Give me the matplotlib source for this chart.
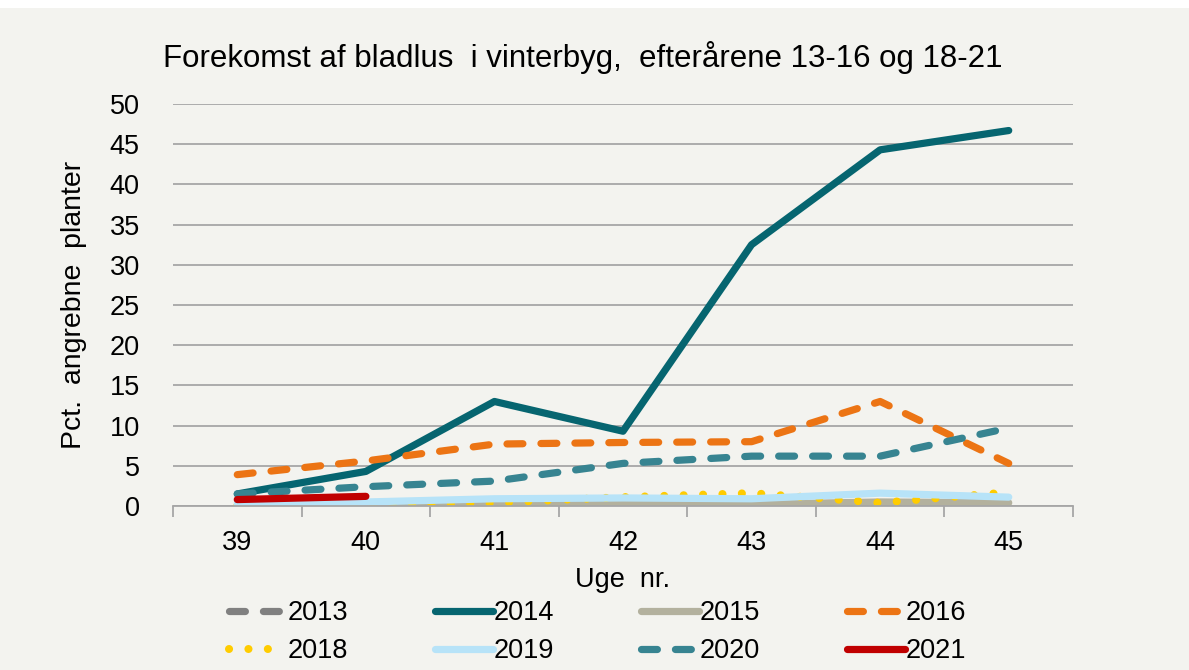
import numpy as np
import matplotlib
matplotlib.use("Agg")
import matplotlib.pyplot as plt
from matplotlib.ticker import FixedLocator, NullFormatter

plt.rcParams['font.family'] = ['Liberation Sans', 'DejaVu Sans']

# data
weeks = ['39', '40', '41', '42', '43', '44', '45']
y2013 = [0, 0, 0, 0, 0, 0, 0]
y2014 = [1.5, 4.3, 13.0, 9.3, 32.5, 44.3, 46.7]
y2015 = [0, 0, 0.2, 0.2, 0.2, 0.5, 0.4]
y2016 = [3.9, 5.6, 7.7, 7.9, 8.0, 13.0, 5.3]
y2018 = [0, 0, 0.4, 1.1, 1.6, 0.4, 1.7]
y2019 = [0.3, 0.5, 0.9, 1.0, 0.9, 1.6, 1.1]
y2020 = [1.5, 2.4, 3.1, 5.3, 6.2, 6.2, 9.7]
y2021 = [0.8, 1.2]

bg = '#f3f3ef'
fig = plt.figure(figsize=(11.89, 6.70), dpi=100, facecolor=bg)
# thin white strip at the very top like the screenshot
fig.patches.append(plt.Rectangle((0, 1 - 8/670), 1, 8/670, transform=fig.transFigure,
                                 facecolor='white', edgecolor='none', zorder=-1))
ax = fig.add_axes([173/1189, 1 - 506/670, 900/1189, 402/670])
ax.set_facecolor(bg)

x = np.arange(len(weeks))
lw = 5.2
dash = (0, (2.2, 2.5))

h = {}
h['2013'], = ax.plot(x, y2013, color='#808080', lw=lw, ls=dash, dash_capstyle='round', zorder=2)
h['2014'], = ax.plot(x, y2014, color='#066570', lw=lw, solid_capstyle='round', zorder=3)
h['2015'], = ax.plot(x, y2015, color='#b3b19e', lw=lw, solid_capstyle='round', zorder=2)
h['2016'], = ax.plot(x, y2016, color='#ec7414', lw=lw, ls=dash, dash_capstyle='round', zorder=3)
h['2018'], = ax.plot(x, y2018, color='#ffcc00', lw=5.8, ls=(0, (0.01, 2.4)), dash_capstyle='round', zorder=2)
h['2019'], = ax.plot(x, y2019, color='#b7e3f8', lw=lw, solid_capstyle='round', zorder=2)
h['2020'], = ax.plot(x, y2020, color='#378491', lw=lw, ls=dash, dash_capstyle='round', zorder=3)
h['2021'], = ax.plot(x[:len(y2021)], y2021, color='#c00000', lw=lw, solid_capstyle='round', zorder=4)

ax.set_xlim(-0.5, len(weeks) - 0.5)
ax.set_ylim(0, 50)
ax.set_yticks(np.arange(0, 51, 5))
ax.yaxis.grid(True, color='#a6a6a6', lw=1.3)
ax.set_axisbelow(True)
for s in ['top', 'right', 'left']:
    ax.spines[s].set_visible(False)
ax.spines['bottom'].set_color('#a6a6a6')
ax.spines['bottom'].set_linewidth(1.3)

# labels at week centres, tick marks at the boundaries
ax.set_xticks(x)
ax.set_xticklabels(weeks)
ax.tick_params(axis='x', which='major', length=0, pad=17, labelsize=19.5)
ax.xaxis.set_minor_locator(FixedLocator(np.arange(-0.5, len(weeks), 1)))
ax.xaxis.set_minor_formatter(NullFormatter())
ax.tick_params(axis='x', which='minor', length=8, width=1.3, color='#a6a6a6')
ax.tick_params(axis='y', length=0, pad=24, labelsize=19.5)

ax.set_xlabel('Uge  nr.', fontsize=19.5, labelpad=8)
ax.set_ylabel('Pct.  angrebne  planter', fontsize=20.5, labelpad=16)

fig.text(0.49, 1 - 57/670, 'Forekomst af bladlus  i vinterbyg,  efterårene 13-16 og 18-21',
         ha='center', va='center', fontsize=22.5)

# legend filled row by row (matplotlib fills columns, so reorder)
order = ['2013', '2018', '2014', '2019', '2015', '2020', '2016', '2021']
fig.legend([h[k] for k in order], order, loc='upper left',
           bbox_to_anchor=(229/1189, 1 - 600/670), ncol=4, frameon=False,
           fontsize=19.5, handlelength=2.15, handletextpad=0.02, columnspacing=3.2,
           labelspacing=0.45, borderpad=0, borderaxespad=0)

fig.savefig('out.png', dpi=100, facecolor=bg)
